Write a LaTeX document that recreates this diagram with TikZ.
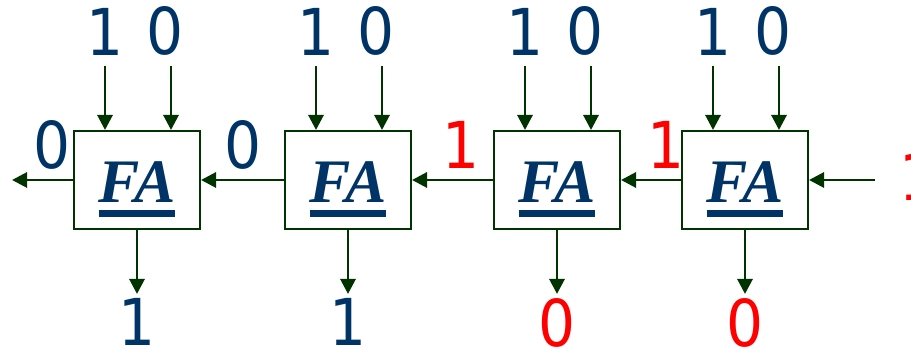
\documentclass[tikz,border=0pt]{standalone}
\usepackage{fontspec}
\setsansfont{DejaVu Sans Condensed}
\newfontfamily\adderfont{Liberation Serif}
\usetikzlibrary{arrows.meta,positioning}
\definecolor{wiregreen}{RGB}{0,51,0}
\definecolor{bitblue}{RGB}{0,51,102}
\definecolor{carryred}{RGB}{255,0,0}
% underlined FA sign inside each adder
\newcommand{\fasign}{\setbox0\hbox{FA}\vtop{\copy0\kern5pt\hrule height 5pt}}

\begin{document}
\begin{tikzpicture}[
  wire/.style={draw=wiregreen, line width=2.1pt, -{Triangle[length=0.38cm,width=0.38cm]}},
  fabox/.style={draw=wiregreen, line width=1.4pt, fill=white, inner sep=0pt,
    minimum width=3.15cm, minimum height=2.45cm, text=bitblue,
    font=\adderfont\bfseries\itshape\fontsize{44}{50}\selectfont,
    text height=1.475cm, text depth=0.35cm},
  bit/.style={text=bitblue, font=\sffamily\fontsize{46}{50}\selectfont, inner sep=0.1cm},
  carry/.style={bit, text=carryred}]
\useasboundingbox (0,0) rectangle (22.775,8.725);

% the four full adders, bit 3 on the left
\node[fabox] (fa3) at (3.425,4.225) {\fasign};
\node[fabox] (fa2) at (8.7,4.225) {\fasign};
\node[fabox] (fa1) at (13.925,4.225) {\fasign};
\node[fabox] (fa0) at (18.625,4.225) {\fasign};

% operand bits a and b
\node[bit, inner sep=0.25cm, above=1.6cm of fa3.north, xshift=-0.8cm] (a3) {1};
\node[bit, inner sep=0.25cm, above=1.6cm of fa3.north, xshift=0.7cm] (b3) {0};
\node[bit, inner sep=0.25cm, above=1.6cm of fa2.north, xshift=-0.8cm] (a2) {1};
\node[bit, inner sep=0.25cm, above=1.6cm of fa2.north, xshift=0.7cm] (b2) {0};
\node[bit, inner sep=0.25cm, above=1.6cm of fa1.north, xshift=-0.8cm] (a1) {1};
\node[bit, inner sep=0.25cm, above=1.6cm of fa1.north, xshift=0.7cm] (b1) {0};
\node[bit, inner sep=0.25cm, above=1.6cm of fa0.north, xshift=-0.8cm] (a0) {1};
\node[bit, inner sep=0.25cm, above=1.6cm of fa0.north, xshift=0.7cm] (b0) {0};
\foreach \n in {3,2,1,0}{
  \draw[wire] (a\n.south) -- (a\n.south |- fa\n.north);
  \draw[wire] ([xshift=0.15cm]b\n.south) -- ([xshift=0.15cm]b\n.south |- fa\n.north);
}

% sum bits
\node[bit, below=1.6cm of fa3] (s3) {1};
\node[bit, below=1.6cm of fa2] (s2) {1};
\node[carry, below=1.6cm of fa1] (s1) {0};
\node[carry, below=1.6cm of fa0] (s0) {0};
\foreach \n in {3,2,1,0}
  \draw[wire] (fa\n.south) -- (s\n.north);

% carry chain
\coordinate (cout) at (0.3,4.225);
\coordinate (cin) at (21.875,4.225);
\draw[wire] (cin) -- (fa0.east);
\draw[wire] (fa0.west) -- (fa1.east);
\draw[wire] (fa1.west) -- (fa2.east);
\draw[wire] (fa2.west) -- (fa3.east);
\draw[wire] (fa3.west) -- (cout);
\node[carry] (c0) at (22.95,4.3) {1};
\node[carry] (c1) at (16.65,5.1) {1};
\node[carry] (c2) at (11.525,5.1) {1};
\node[bit] (c3) at (6.075,5.1) {0};
\node[bit] (c4) at (1.3,5.1) {0};
\end{tikzpicture}
\end{document}
